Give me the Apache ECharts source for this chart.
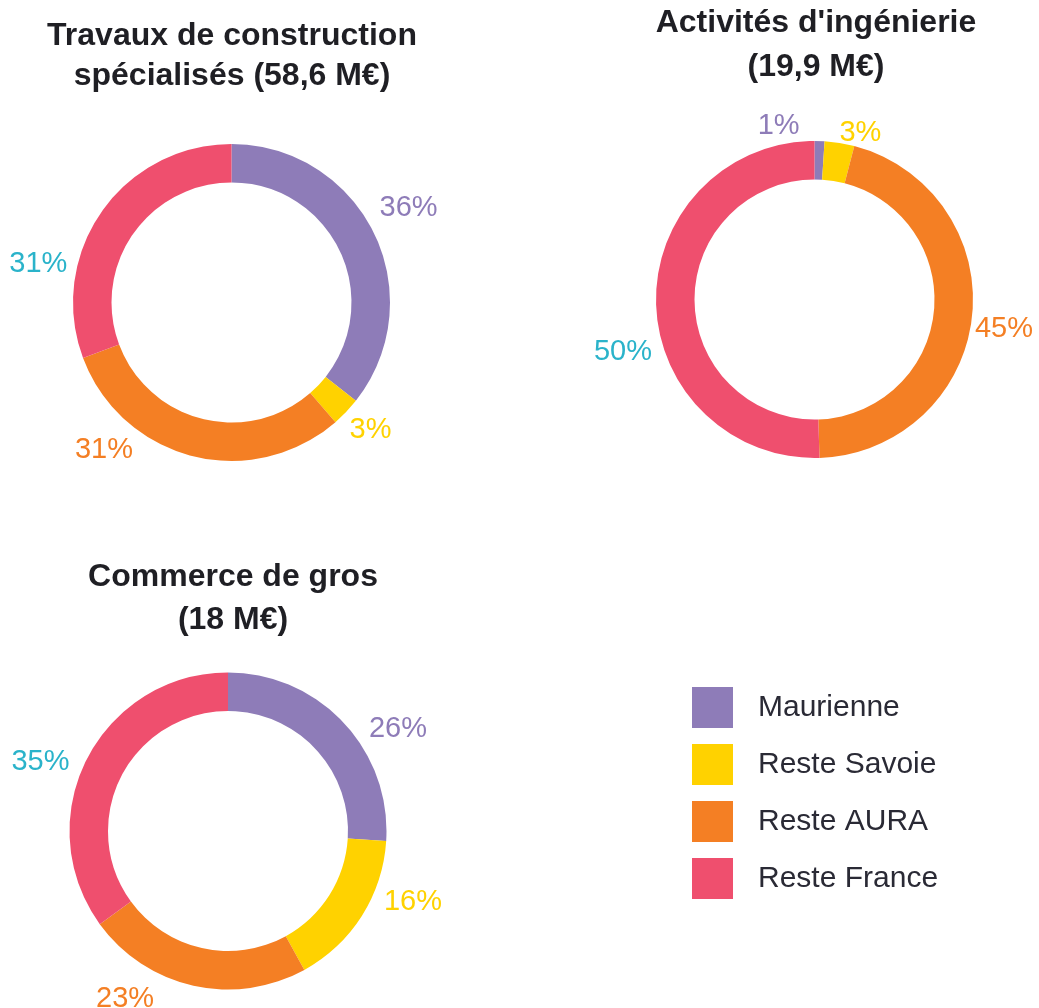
<!DOCTYPE html>
<html>
<head>
<meta charset="utf-8">
<script src="https://cdn.jsdelivr.net/npm/echarts@6/dist/echarts.min.js"></script>
<style>
html,body{margin:0;padding:0;background:#fff;}
#chart{width:1039px;height:1008px;}
</style>
</head>
<body>
<div id="chart"></div>
<script>
// ---- data ----
const categories = ['Maurienne', 'Reste Savoie', 'Reste AURA', 'Reste France'];
const titles = [
  'Travaux de construction\nspécialisés (58,6 M€)',
  'Activités d\'ingénierie\n(19,9 M€)',
  'Commerce de gros\n(18 M€)'
];
const travauxValues = [36, 3, 31, 31];
const ingenierieValues = [1, 3, 45, 50];
const commerceValues = [26, 16, 23, 35];

// ---- style ----
const sliceColors = ['#8E7CB8', '#FFD200', '#F47F24', '#EF4F6E'];
const labelColors = ['#8E7CB8', '#FFD200', '#F47F24', '#2AB3CA'];
const FONT = '"Liberation Sans", Arial, sans-serif';
// label nudges (dx, dy) relative to the default outside placement, per chart
const labelNudges = [
  [[0, -23], [-1, 14], [-58, -12], [-29, 55]],
  [[-62, -9], [-1, -4], [-3, 11], [2, 50]],
  [[21, 11], [17, -17], [-38, 7], [-12, 6]]
];

function buildData(values) {
  return categories.map((name, i) => ({
    name: name,
    value: values[i],
    itemStyle: { color: sliceColors[i] },
    label: { color: labelColors[i] }
  }));
}

function pieSeries(values, center, k) {
  return {
    type: 'pie',
    center: center,
    radius: [120, 158.5],
    startAngle: 90,
    clockwise: true,
    avoidLabelOverlap: false,
    minShowLabelAngle: 0,
    silent: true,
    data: buildData(values),
    label: {
      show: true,
      position: 'outside',
      formatter: '{c}%',
      fontFamily: FONT,
      fontSize: 29,
      distanceToLabelLine: 0
    },
    labelLine: { show: false, length: 6, length2: 0 },
    labelLayout: function (p) {
      const n = labelNudges[k][p.dataIndex];
      return { dx: n[0], dy: n[1], hideOverlap: false, moveOverlap: null };
    },
    itemStyle: { borderWidth: 0 },
    emphasis: { disabled: true }
  };
}

const chart = echarts.init(document.getElementById('chart'), null, { renderer: 'canvas' });
const titleStyle = (lh) => ({ fontFamily: FONT, fontSize: 32, fontWeight: 'bold', color: '#1f1f24', lineHeight: lh });
chart.setOption({
  animation: false,
  backgroundColor: '#ffffff',
  title: [
    { text: titles[0], left: 232, top: 16, textAlign: 'center', textStyle: titleStyle(40), padding: 0 },
    { text: titles[1], left: 816, top: 1, textAlign: 'center', textStyle: titleStyle(44), padding: 0 },
    { text: titles[2], left: 233, top: 556, textAlign: 'center', textStyle: titleStyle(43), padding: 0 }
  ],
  legend: {
    orient: 'vertical',
    left: 692,
    top: 687,
    padding: 0,
    itemWidth: 41,
    itemHeight: 41,
    itemGap: 16,
    icon: 'rect',
    selectedMode: false,
    data: categories,
    textStyle: {
      fontFamily: FONT,
      fontSize: 30,
      color: '#2a2a35',
      lineHeight: 41,
      padding: [0, 0, 0, 20]
    }
  },
  series: [
    pieSeries(travauxValues, [231.5, 302.5], 0),
    pieSeries(ingenierieValues, [814.5, 299.5], 1),
    pieSeries(commerceValues, [228, 831], 2)
  ]
});
</script>
</body>
</html>
